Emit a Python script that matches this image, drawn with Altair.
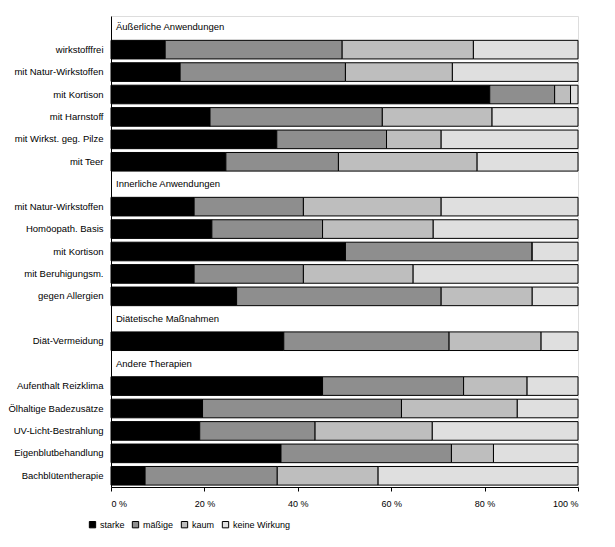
import altair as alt
import pandas as pd

group_names = ["Äußerliche Anwendungen", "Innerliche Anwendungen",
               "Diätetische Maßnahmen", "Andere Therapien"]
group_sizes = [6, 5, 1, 5]
categories = ["wirkstofffrei", "mit Natur-Wirkstoffen", "mit Kortison", "mit Harnstoff",
              "mit Wirkst. geg. Pilze", "mit Teer",
              "mit Natur-Wirkstoffen", "Homöopath. Basis", "mit Kortison",
              "mit Beruhigungsm.", "gegen Allergien",
              "Diät-Vermeidung",
              "Aufenthalt Reizklima", "Ölhaltige Badezusätze", "UV-Licht-Bestrahlung",
              "Eigenblutbehandlung", "Bachblütentherapie"]
series = ["starke", "mäßige", "kaum", "keine Wirkung"]
starke = [11.6, 14.8, 81.1, 21.2, 35.5, 24.6, 17.8, 21.6, 50.2, 17.8, 26.9, 37.0,
          45.3, 19.6, 19.0, 36.4, 7.3]
maessige = [37.9, 35.4, 13.9, 36.9, 23.5, 24.1, 23.4, 23.7, 40.0, 23.4, 43.8, 35.4,
            30.2, 42.6, 24.7, 36.5, 28.3]
kaum = [28.1, 22.9, 3.4, 23.5, 11.7, 29.7, 29.5, 23.7, 0.0, 23.5, 19.5, 19.7,
        13.6, 24.8, 25.1, 9.0, 21.6]
keine = [22.4, 26.9, 1.6, 18.4, 29.3, 21.6, 29.3, 31.0, 9.8, 35.3, 9.8, 7.9,
         10.9, 13.0, 31.2, 18.1, 42.8]
colors = ["#000000", "#8e8e8e", "#bebebe", "#dfdfdf"]
ticks = [0, 20, 40, 60, 80, 100]

# build row layout: header row then items per group
row_labels = []
headers = []
bars = []
ci = 0
for g, n in zip(group_names, group_sizes):
    headers.append({"idx": len(row_labels), "text": g})
    row_labels.append("")
    for _ in range(n):
        idx = len(row_labels)
        row_labels.append(categories[ci])
        for k, (s, vals) in enumerate(zip(series, [starke, maessige, kaum, keine])):
            bars.append({"idx": idx, "series": s, "k": k, "value": vals[ci]})
        ci += 1

bars_df = pd.DataFrame(bars)
head_df = pd.DataFrame(headers)
label_arr = "[" + ",".join("'" + l + "'" for l in row_labels) + "]"
order_idx = list(range(len(row_labels)))

FONT = "Liberation Sans"

yscale = alt.Scale(domain=order_idx, paddingInner=0.17, paddingOuter=0.085)

bar_chart = alt.Chart(bars_df).mark_bar(stroke="#000000", strokeWidth=1).encode(
    x=alt.X("value:Q", stack="zero",
            scale=alt.Scale(domain=[0, 100], nice=False),
            axis=alt.Axis(values=ticks, labelExpr="datum.value + ' %'", title=None,
                          grid=False, tickSize=4, tickColor="#000000",
                          domainColor="#000000", labelPadding=8,
                          labelFont=FONT, labelFontSize=9, labelColor="#000000")),
    y=alt.Y("idx:O", scale=yscale,
            axis=alt.Axis(labelExpr=label_arr + "[datum.value]", title=None,
                          ticks=False, domainColor="#000000", labelPadding=8,
                          labelFont=FONT, labelFontSize=9.5, labelColor="#000000")),
    color=alt.Color("series:N", scale=alt.Scale(domain=series, range=colors),
                    legend=alt.Legend(orient="none", legendX=-23, legendY=504,
                                      direction="horizontal", title=None,
                                      symbolType="square", symbolSize=40,
                                      symbolStrokeColor="#000000", symbolStrokeWidth=1,
                                      labelFont=FONT, labelFontSize=9,
                                      labelColor="#000000", labelOffset=3,
                                      columnPadding=5, padding=0)),
    order=alt.Order("k:Q"),
)

head_chart = alt.Chart(head_df).mark_text(align="left", baseline="middle",
                                          font=FONT, fontSize=9.5, color="#000000").encode(
    x=alt.value(5),
    y=alt.Y("idx:O", scale=yscale),
    text="text:N",
)

chart = alt.layer(bar_chart, head_chart).properties(
    width=467, height=471,
    autosize=alt.AutoSizeParams(type="none"),
    padding={"left": 103, "top": 8, "right": 29, "bottom": 52},
).configure_view(stroke="#808080", strokeWidth=1).configure(background="#ffffff")

chart.save("out.html", embed_options={"renderer": "svg", "actions": False})
